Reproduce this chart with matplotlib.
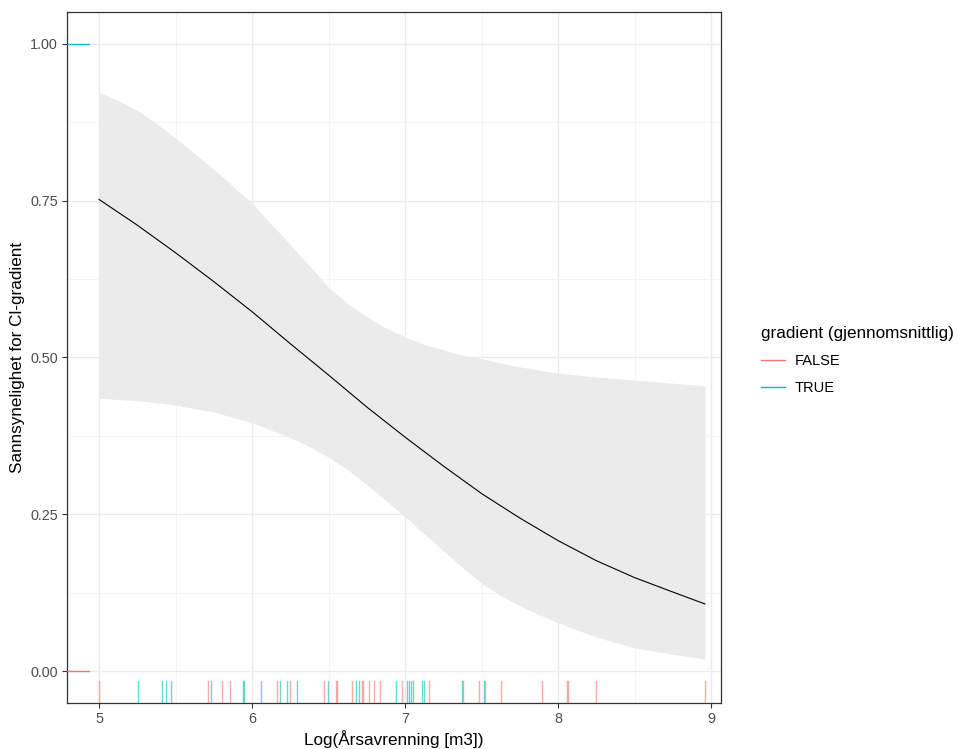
import matplotlib.pyplot as plt
from matplotlib.lines import Line2D

plt.rcParams['font.family'] = ['Liberation Sans', 'DejaVu Sans']

# fitted curve
x_fit = [5.0, 5.25, 5.5, 5.75, 6.0, 6.25, 6.5, 6.75, 7.0, 7.25, 7.5, 7.75, 8.0, 8.25, 8.5, 8.75, 8.96]
p_fit = [0.752, 0.711, 0.667, 0.621, 0.573, 0.522, 0.472, 0.421, 0.373, 0.327, 0.283, 0.244, 0.208, 0.176, 0.149, 0.126, 0.107]

# confidence band
x_band = [5.0, 5.125, 5.25, 5.375, 5.5, 5.75, 6.0, 6.25, 6.375, 6.5, 6.625, 6.75, 6.875, 7.0,
          7.125, 7.25, 7.375, 7.5, 7.625, 7.75, 7.875, 8.0, 8.25, 8.5, 8.75, 8.96]
p_upper = [0.923, 0.910, 0.894, 0.873, 0.850, 0.800, 0.746, 0.680, 0.646, 0.612, 0.586, 0.565, 0.547, 0.533,
           0.521, 0.512, 0.504, 0.498, 0.491, 0.485, 0.480, 0.475, 0.469, 0.464, 0.459, 0.455]
p_lower = [0.435, 0.433, 0.431, 0.428, 0.424, 0.413, 0.396, 0.372, 0.358, 0.341, 0.321, 0.297, 0.272, 0.246,
           0.219, 0.192, 0.165, 0.140, 0.120, 0.104, 0.090, 0.077, 0.054, 0.037, 0.027, 0.019]

# observations (rug)
x_false = [5.0, 5.71, 5.806, 5.856, 6.161, 6.248, 6.473, 6.548, 6.558, 6.656, 6.718, 6.726,
           6.767, 6.797, 6.837, 6.978, 7.157, 7.378, 7.484, 7.523, 7.625, 7.897, 8.058, 8.066,
           8.246, 8.961]
x_true = [5.253, 5.41, 5.44, 5.47, 5.73, 5.939, 5.95, 6.06, 6.185, 6.227, 6.294, 6.495,
          6.68, 6.699, 6.939, 7.011, 7.028, 7.041, 7.052, 7.109, 7.122, 7.372, 7.516]

red = '#F8766D'
cyan = '#00BFC4'

fig = plt.figure(figsize=(9.58, 7.49), dpi=100)
ax = fig.add_axes([0.0699, 0.0614, 0.6827, 0.9226])

ax.fill_between(x_band, p_lower, p_upper, color='#EBEBEB', lw=0, zorder=1)
ax.plot(x_fit, p_fit, color='black', lw=0.8, zorder=3)

# rug: bottom for x, left for the 0/1 outcome
tb = ax.get_xaxis_transform()
tl = ax.get_yaxis_transform()
for xv in x_false:
    ax.plot([xv, xv], [0, 0.032], color=red, lw=1.0, alpha=0.6, transform=tb, zorder=4)
    ax.plot([0, 0.034], [0, 0], color=red, lw=0.8, alpha=0.1, transform=tl, zorder=4)
for xv in x_true:
    ax.plot([xv, xv], [0, 0.032], color=cyan, lw=1.0, alpha=0.6, transform=tb, zorder=4)
    ax.plot([0, 0.034], [1, 1], color=cyan, lw=0.8, alpha=0.1, transform=tl, zorder=4)

ax.set_xlim(4.79, 9.065)
ax.set_ylim(-0.051, 1.051)
ax.set_xticks([5, 6, 7, 8, 9])
ax.set_xticklabels(['5', '6', '7', '8', '9'])
ax.set_yticks([0, 0.25, 0.5, 0.75, 1.0])
ax.set_yticklabels(['0.00', '0.25', '0.50', '0.75', '1.00'])
ax.set_xticks([5.5, 6.5, 7.5, 8.5], minor=True)
ax.set_yticks([0.125, 0.375, 0.625, 0.875], minor=True)
ax.grid(which='major', color='#EBEBEB', lw=1.0, zorder=0)
ax.grid(which='minor', color='#F4F4F4', lw=0.7, zorder=0)
ax.set_axisbelow(True)
ax.tick_params(which='major', length=3.5, color='#333333', width=0.8,
               labelsize=10.4, labelcolor='#4D4D4D', pad=3)
ax.tick_params(which='minor', length=0)
for s in ax.spines.values():
    s.set_color('#333333')
    s.set_linewidth(0.9)

ax.set_xlabel('Log(Årsavrenning [m3])', fontsize=12.3, va='center')
ax.set_ylabel('Sannsynelighet for Cl-gradient', fontsize=12.3, va='center')
ax.xaxis.set_label_coords(0.5, -0.052)
ax.yaxis.set_label_coords(-0.075, 0.5)

handles = [Line2D([], [], color=red, lw=1.0), Line2D([], [], color=cyan, lw=1.0)]
leg = fig.legend(handles, ['FALSE', 'TRUE'], title='gradient (gjennomsnittlig)',
                 loc='upper left', bbox_to_anchor=(0.784, 0.579), frameon=False,
                 fontsize=10.5, title_fontsize=12.3, handlelength=1.6, handletextpad=0.7,
                 labelspacing=0.9, borderaxespad=0.3)
leg._legend_box.align = 'left'

fig.savefig('out.png', dpi=100)
